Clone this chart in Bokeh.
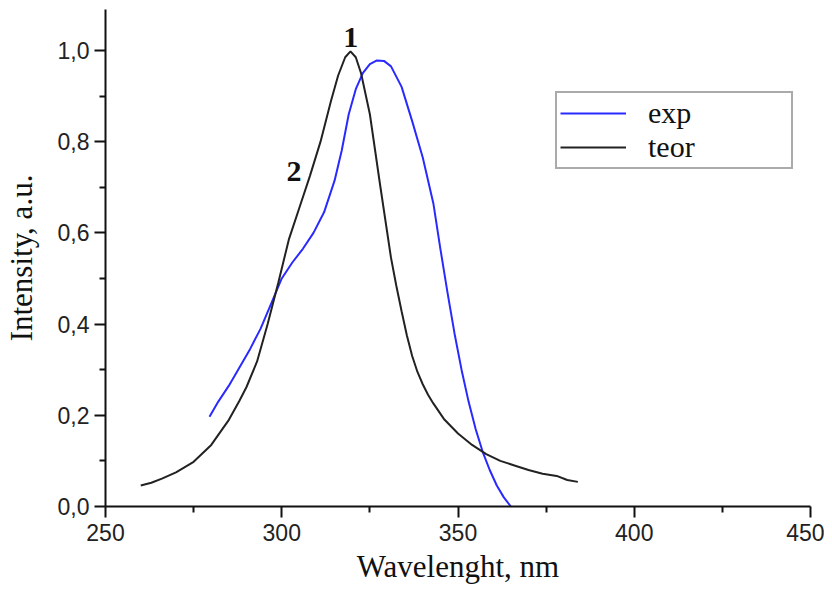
from bokeh.plotting import figure
from bokeh.models import FixedTicker, CustomJSTickFormatter, Range1d, Legend, LegendItem, Label
from bokeh.embed import file_html
from bokeh.resources import INLINE

# ---- data ----
wl_teor = [260, 263, 266, 270, 275, 280, 285, 288, 290, 293, 296, 299, 302, 305, 308,
           311, 314, 316, 318, 319.5, 321, 322.5, 325, 328, 331, 332.5, 334, 335.5,
           337, 338.5, 340, 341.5, 343, 346, 350, 354, 358, 362, 366, 370, 374, 378,
           381, 384]
int_teor = [0.046, 0.052, 0.061, 0.075, 0.098, 0.135, 0.19, 0.232, 0.262, 0.318,
            0.40, 0.49, 0.585, 0.655, 0.725, 0.80, 0.89, 0.945, 0.985, 0.998, 0.985,
            0.95, 0.86, 0.70, 0.545, 0.484, 0.428, 0.375, 0.33, 0.295, 0.268, 0.245,
            0.226, 0.192, 0.16, 0.135, 0.115, 0.10, 0.09, 0.08, 0.072, 0.067, 0.058,
            0.054]

wl_exp = [279.5, 282, 285, 288, 291, 294, 297, 300, 303, 306, 309, 312, 315, 317,
          319, 321, 323, 325, 327, 329, 331, 334, 337, 340, 343, 345, 347, 349,
          351, 353, 355, 357, 359, 361, 363, 365]
int_exp = [0.197, 0.23, 0.265, 0.305, 0.345, 0.39, 0.445, 0.50, 0.535, 0.565,
           0.60, 0.645, 0.715, 0.78, 0.86, 0.915, 0.95, 0.97, 0.978, 0.977,
           0.965, 0.92, 0.845, 0.765, 0.665, 0.565, 0.47, 0.38, 0.30, 0.23,
           0.17, 0.12, 0.08, 0.046, 0.02, 0.0]

x_major = [250, 300, 350, 400, 450]
x_minor = [275, 325, 375, 425]
y_major = [0.0, 0.2, 0.4, 0.6, 0.8, 1.0]
y_minor = [0.1, 0.3, 0.5, 0.7, 0.9]

serif = "Liberation Serif"
sans = "Liberation Sans"

p = figure(width=824, height=586, output_backend="svg", toolbar_location=None,
           x_range=Range1d(250, 450), y_range=Range1d(0, 1.0897),
           min_border_left=103, min_border_right=14, min_border_top=9, min_border_bottom=78)
p.outline_line_color = None
p.xgrid.visible = False
p.ygrid.visible = False
p.background_fill_color = "white"

r_exp = p.line(wl_exp, int_exp, line_color="#2a2aff", line_width=2)
r_teor = p.line(wl_teor, int_teor, line_color="#222222", line_width=2)

for ax in (p.xaxis[0], p.yaxis[0]):
    ax.axis_line_width = 2
    ax.axis_line_color = "#111111"
    ax.major_tick_line_width = 2
    ax.minor_tick_line_width = 2
    ax.major_tick_line_color = "#111111"
    ax.minor_tick_line_color = "#111111"
    ax.major_tick_in = 0
    ax.major_tick_out = 11
    ax.minor_tick_in = 0
    ax.minor_tick_out = 6
    ax.major_label_text_font = sans
    ax.major_label_text_font_size = "23px"
    ax.major_label_text_color = "#222222"
    ax.axis_label_text_font = serif
    ax.axis_label_text_font_size = "31px"
    ax.axis_label_text_font_style = "normal"
    ax.axis_label_text_color = "#111111"

p.xaxis.ticker = FixedTicker(ticks=x_major, minor_ticks=x_minor)
p.yaxis.ticker = FixedTicker(ticks=y_major, minor_ticks=y_minor)
p.xaxis.formatter = CustomJSTickFormatter(code="return tick.toFixed(0);")
p.yaxis.formatter = CustomJSTickFormatter(code="return tick.toFixed(1).replace('.', ',');")
p.xaxis.axis_label = "Wavelenght, nm"
p.yaxis.axis_label = "Intensity, a.u."
p.xaxis.major_label_standoff = 6
p.yaxis.major_label_standoff = 5
p.xaxis.axis_label_standoff = 5
p.yaxis.axis_label_standoff = 16

legend = Legend(items=[LegendItem(label="exp", renderers=[r_exp]),
                       LegendItem(label="teor", renderers=[r_teor])],
                location=(450, 337))
legend.label_text_font = serif
legend.label_text_font_size = "30px"
legend.label_text_color = "#111111"
legend.glyph_width = 66
legend.glyph_height = 34
legend.label_height = 34
legend.label_standoff = 22
legend.label_width = 140
legend.padding = 3
legend.spacing = 0
legend.margin = 0
legend.border_line_color = "#555555"
legend.border_line_width = 2
legend.background_fill_alpha = 1
p.add_layout(legend, "center")

for txt, xx, yy in (("1", 319.6, 1.028), ("2", 303.5, 0.735)):
    p.add_layout(Label(x=xx, y=yy, text=txt, text_font=serif, text_font_size="30px",
                       text_font_style="bold", text_align="center", text_baseline="middle",
                       text_color="#111111"))

open("out.html", "w").write(file_html(p, INLINE))
